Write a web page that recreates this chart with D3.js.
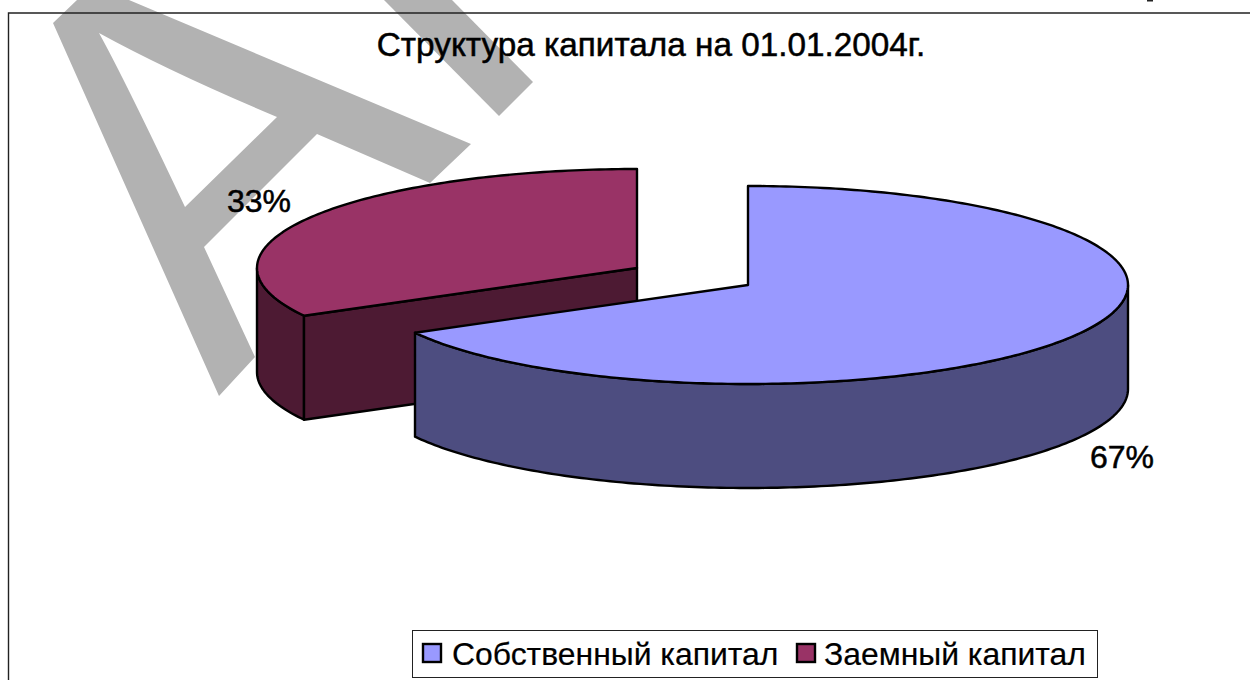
<!DOCTYPE html>
<html>
<head>
<meta charset="utf-8">
<script src="https://cdn.jsdelivr.net/npm/d3@7"></script>
<style>
html, body { margin: 0; padding: 0; background: #fff; overflow: hidden; }
svg { display: block; font-family: "Liberation Sans", Arial, sans-serif; }
</style>
</head>
<body>
<svg id="chart-container" width="1250" height="680"></svg>
<script>
// chart values
const categories = ["Собственный капитал", "Заемный капитал"];
const shares = [67, 33];
const shareLabels = ["67%", "33%"];
const chartTitle = "Структура капитала на 01.01.2004г.";
const topColors = ["#9999ff", "#993366"];
const wallColors = ["#4d4d80", "#4d1a33"];

var svg = d3.select("#chart-container");

// grey watermark behind the chart (a big letter cut off by the page)
var watermark = svg.append("g").attr("fill", "#b2b2b2");
watermark.append("path")
    .attr("fill-rule", "evenodd")
    .attr("d", "M53,23 L77,0 L129,0 L471,144 L430,183 L317,134 L204,247 L255,357 L219,396 Z " +
               "M99,33 Q125,80 185,207 L277,117 Q170,72 99,33 Z");
watermark.append("path")
    .attr("d", "M384,0 L452,0 L533,82 L499,116 Z");

// frame, runs off the page on the right and bottom
svg.append("path")
    .attr("d", "M8.5,690 L8.5,13 L1260,13")
    .attr("fill", "none")
    .attr("stroke", "#222")
    .attr("stroke-width", 1.4);

// page number cut by the top edge
svg.append("rect").attr("x", 1147).attr("y", 0).attr("width", 6).attr("height", 1.5).attr("fill", "#222");

svg.append("text")
    .attr("x", 651)
    .attr("y", 56)
    .attr("text-anchor", "middle")
    .attr("font-size", 33.3)
    .attr("stroke", "#000")
    .attr("stroke-width", 0.5)
    .text(chartTitle);

// pie, squashed by hand because it is a fake 3d one
var rx = 380, ry = 99, depth = 104;
var centers = [{ x: 748, y: 285 }, { x: 637, y: 268 }];
var pie = d3.pie().sort(null);
var slices = pie(shares);
var line = d3.line();

function rimPoints(c, a0, a1, dy) {
    var n = Math.max(2, Math.ceil((a1 - a0) * 60));
    return d3.range(n + 1).map(i => {
        var a = a0 + (a1 - a0) * i / n;
        return [c.x + rx * Math.sin(a), c.y - ry * Math.cos(a) + dy];
    });
}

function wall(c, a0, a1) {
    return line(rimPoints(c, a0, a1, 0).concat(rimPoints(c, a0, a1, depth).reverse())) + "Z";
}

var pieLayer = svg.append("g")
    .attr("stroke", "#000")
    .attr("stroke-width", 2.4)
    .attr("stroke-linejoin", "round");

// red slice first, blue sits in front of it
[1, 0].forEach(i => {
    var s = slices[i], c = centers[i];
    // outer wall, only the front half of the rim can be seen
    var from = Math.max(s.startAngle, Math.PI / 2);
    var to = Math.min(s.endAngle, Math.PI * 3 / 2);
    pieLayer.append("path").attr("d", wall(c, from, to)).attr("fill", wallColors[i]);
    // inner cut wall of the red slice
    if (i == 1) {
        var edge = rimPoints(c, s.startAngle, s.startAngle, 0)[0];
        pieLayer.append("path")
            .attr("d", line([edge, [c.x, c.y], [c.x, c.y + depth], [edge[0], edge[1] + depth]]) + "Z")
            .attr("fill", wallColors[i]);
    }
    pieLayer.append("path")
        .attr("d", line([[c.x, c.y]].concat(rimPoints(c, s.startAngle, s.endAngle, 0))) + "Z")
        .attr("fill", topColors[i]);
});

// slice labels
var labelPos = [{ x: 1122, y: 468 }, { x: 259, y: 212 }];
shareLabels.forEach((t, i) => {
    svg.append("text")
        .attr("x", labelPos[i].x)
        .attr("y", labelPos[i].y)
        .attr("text-anchor", "middle")
        .attr("font-size", 32)
        .attr("stroke", "#000")
        .attr("stroke-width", 0.5)
        .text(t);
});

// legend
var legend = svg.append("g");
legend.append("rect")
    .attr("x", 412.5).attr("y", 630.5)
    .attr("width", 685).attr("height", 47)
    .attr("fill", "#fff")
    .attr("stroke", "#222")
    .attr("stroke-width", 1);

var swatchX = [423, 797], textX = [452, 824];
categories.forEach((name, i) => {
    legend.append("rect")
        .attr("x", swatchX[i]).attr("y", 644)
        .attr("width", 18).attr("height", 18)
        .attr("fill", topColors[i])
        .attr("stroke", "#000")
        .attr("stroke-width", 2.4);
    legend.append("text")
        .attr("x", textX[i]).attr("y", 665)
        .attr("font-size", 31.9)
        .attr("stroke", "#000")
        .attr("stroke-width", 0.2)
        .text(name);
});
</script>
</body>
</html>
